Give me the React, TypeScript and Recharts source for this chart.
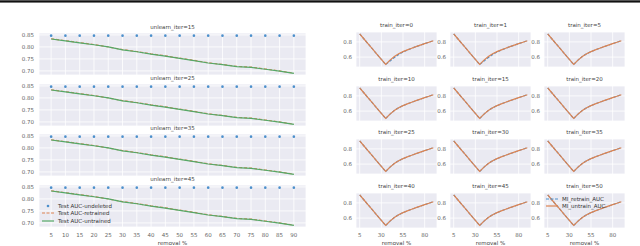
import { LineChart, Line, XAxis, YAxis, CartesianGrid } from 'recharts';

const removal = [5, 10, 15, 20, 25, 30, 35, 40, 45, 50, 55, 60, 65, 70, 75, 80, 85, 90];
const aucUndeleted = [0.847, 0.847, 0.847, 0.847, 0.847, 0.847, 0.847, 0.847, 0.847, 0.847, 0.847, 0.847, 0.847, 0.847, 0.847, 0.847, 0.847, 0.847];
const aucRetrained = [0.834, 0.826, 0.818, 0.810, 0.800, 0.789, 0.781, 0.771, 0.763, 0.753, 0.744, 0.734, 0.727, 0.719, 0.716, 0.708, 0.700, 0.691];
const aucUntrained = [0.833, 0.825, 0.817, 0.809, 0.800, 0.788, 0.780, 0.770, 0.762, 0.752, 0.743, 0.733, 0.726, 0.718, 0.715, 0.707, 0.699, 0.690];
const unlearnIters = [15, 25, 35, 45];
const aucTicks = [0.7, 0.75, 0.8, 0.85];

const trainIters = [0, 1, 5, 10, 15, 20, 25, 30, 35, 40, 45, 50];
const miUntrain = [0.905, 0.838, 0.771, 0.704, 0.637, 0.570, 0.503, 0.560, 0.608, 0.645, 0.672, 0.695, 0.717, 0.737, 0.757, 0.777, 0.796, 0.815];
const miRetrainEarly = [0.905, 0.838, 0.771, 0.704, 0.637, 0.570, 0.503, 0.548, 0.594, 0.635, 0.667, 0.692, 0.716, 0.737, 0.757, 0.777, 0.796, 0.815];
const miRetrainLate = [0.905, 0.838, 0.771, 0.704, 0.637, 0.570, 0.503, 0.560, 0.608, 0.645, 0.672, 0.695, 0.717, 0.737, 0.757, 0.777, 0.796, 0.815];
const miTicksX = [5, 30, 55, 80];
const miTicksY = [0.6, 0.8];

const FONT = '"DejaVu Sans", sans-serif';
const BG = '#eaeaf2';
const BLUE = '#4c8fcb';
const ORANGE = '#dd8452';
const GREEN = '#55a868';
const TICK = { fill: '#666', fontSize: 5.5, fontFamily: FONT };

function AucPanel({ iter, index }: { iter: number; index: number }) {
  const last = index === unlearnIters.length - 1;
  const top = 33 + index * 50.7;
  const data = removal.map((r, i) => ({
    removal: r,
    undeleted: aucUndeleted[i],
    retrained: aucRetrained[i],
    untrained: aucUntrained[i],
  }));
  return (
    <>
      <div style={{ position: 'absolute', left: 39, width: 267, top: top - 9, textAlign: 'center', fontSize: 5.5, color: '#444', fontFamily: FONT }}>
        unlearn_iter={iter}
      </div>
      <div style={{ position: 'absolute', left: 0, top }}>
        <LineChart width={306} height={last ? 62 : 42} data={data} margin={{ top: 0, right: 0, bottom: 0, left: 0 }}>
          <CartesianGrid fill={BG} stroke="#fff" strokeWidth={0.8} />
          <XAxis
            dataKey="removal"
            type="number"
            domain={[0.75, 94.25]}
            ticks={removal}
            interval={0}
            hide={!last}
            height={20}
            axisLine={false}
            tickLine={false}
            tickSize={0}
            tickMargin={6}
            tick={TICK}
          />
          <YAxis
            type="number"
            domain={[0.683, 0.858]}
            ticks={aucTicks}
            interval={0}
            width={39}
            axisLine={false}
            tickLine={false}
            tickSize={0}
            tickMargin={5}
            tick={TICK}
            tickFormatter={(v: number) => v.toFixed(2)}
          />
          <Line dataKey="undeleted" stroke="none" dot={{ r: 1.3, fill: BLUE, stroke: 'none' }} isAnimationActive={false} />
          <Line dataKey="retrained" stroke={ORANGE} strokeWidth={1.2} strokeDasharray="3 2" dot={false} isAnimationActive={false} />
          <Line dataKey="untrained" stroke={GREEN} strokeWidth={1.2} dot={false} isAnimationActive={false} />
        </LineChart>
      </div>
    </>
  );
}

function MiPanel({ iter, index }: { iter: number; index: number }) {
  const col = index % 3;
  const row = Math.floor(index / 3);
  const last = row === 3;
  const left = 356 + col * 94;
  const top = 32 + row * 53.7;
  const retrain = iter <= 1 ? miRetrainEarly : miRetrainLate;
  const data = removal.map((r, i) => ({ removal: r, retrain: retrain[i], untrain: miUntrain[i] }));
  return (
    <>
      <div style={{ position: 'absolute', left, width: 81, top: top - 10, textAlign: 'center', fontSize: 5.5, color: '#444', fontFamily: FONT }}>
        train_iter={iter}
      </div>
      <div style={{ position: 'absolute', left: left - 20, top }}>
        <LineChart width={101} height={last ? 55 : 35} data={data} margin={{ top: 0, right: 0, bottom: 0, left: 0 }}>
          <CartesianGrid fill={BG} stroke="#fff" strokeWidth={0.8} />
          <XAxis
            dataKey="removal"
            type="number"
            domain={[0.75, 94.25]}
            ticks={miTicksX}
            interval={0}
            hide={!last}
            height={20}
            axisLine={false}
            tickLine={false}
            tickSize={0}
            tickMargin={5}
            tick={TICK}
          />
          <YAxis
            type="number"
            domain={[0.47, 0.93]}
            ticks={miTicksY}
            interval={0}
            width={20}
            axisLine={false}
            tickLine={false}
            tickSize={0}
            tickMargin={4}
            tick={TICK}
            tickFormatter={(v: number) => v.toFixed(1)}
          />
          <Line dataKey="retrain" stroke={BLUE} strokeWidth={1.2} strokeDasharray="3 1.5" dot={false} isAnimationActive={false} />
          <Line dataKey="untrain" stroke={ORANGE} strokeWidth={1.2} dot={false} isAnimationActive={false} />
        </LineChart>
      </div>
    </>
  );
}

function LegendRow({ kind, color, label }: { kind: 'dot' | 'dash' | 'line'; color: string; label: string }) {
  return (
    <div style={{ display: 'flex', alignItems: 'center', height: 7.3 }}>
      <svg width={12} height={6} style={{ marginRight: 4 }}>
        {kind === 'dot' ? (
          <circle cx={6} cy={3} r={1.3} fill={color} />
        ) : (
          <line x1={0} x2={12} y1={3} y2={3} stroke={color} strokeWidth={1.2} strokeDasharray={kind === 'dash' ? '3 1.5' : undefined} />
        )}
      </svg>
      <span>{label}</span>
    </div>
  );
}

export default function App() {
  return (
    <div style={{ position: 'absolute', left: 0, top: 0, width: 640, height: 246, background: '#fff', overflow: 'hidden', fontFamily: FONT }}>
      <div style={{ position: 'absolute', left: 0, top: 0, width: 640, height: 3, background: 'linear-gradient(#555 0 1px, #111 1px 2px, #777 2px 3px)' }} />
      {unlearnIters.map((it, i) => (
        <AucPanel key={it} iter={it} index={i} />
      ))}
      <div style={{ position: 'absolute', left: 42, top: 202.5, fontSize: 5.5, color: '#333' }}>
        <LegendRow kind="dot" color={BLUE} label="Test AUC-undeleted" />
        <LegendRow kind="dash" color={ORANGE} label="Test AUC-retrained" />
        <LegendRow kind="line" color={GREEN} label="Test AUC-untrained" />
      </div>
      <div style={{ position: 'absolute', left: 39, width: 267, top: 239.5, textAlign: 'center', fontSize: 5.5, color: '#444' }}>removal %</div>
      {trainIters.map((it, i) => (
        <MiPanel key={it} iter={it} index={i} />
      ))}
      <div style={{ position: 'absolute', left: 546, top: 195.5, fontSize: 5.5, color: '#333' }}>
        <LegendRow kind="dash" color={BLUE} label="MI_retrain_AUC" />
        <LegendRow kind="line" color={ORANGE} label="MI_untrain_AUC" />
      </div>
      {[0, 1, 2].map((c) => (
        <div key={c} style={{ position: 'absolute', left: 356 + c * 94, width: 81, top: 239.5, textAlign: 'center', fontSize: 5.5, color: '#444' }}>
          removal %
        </div>
      ))}
    </div>
  );
}
